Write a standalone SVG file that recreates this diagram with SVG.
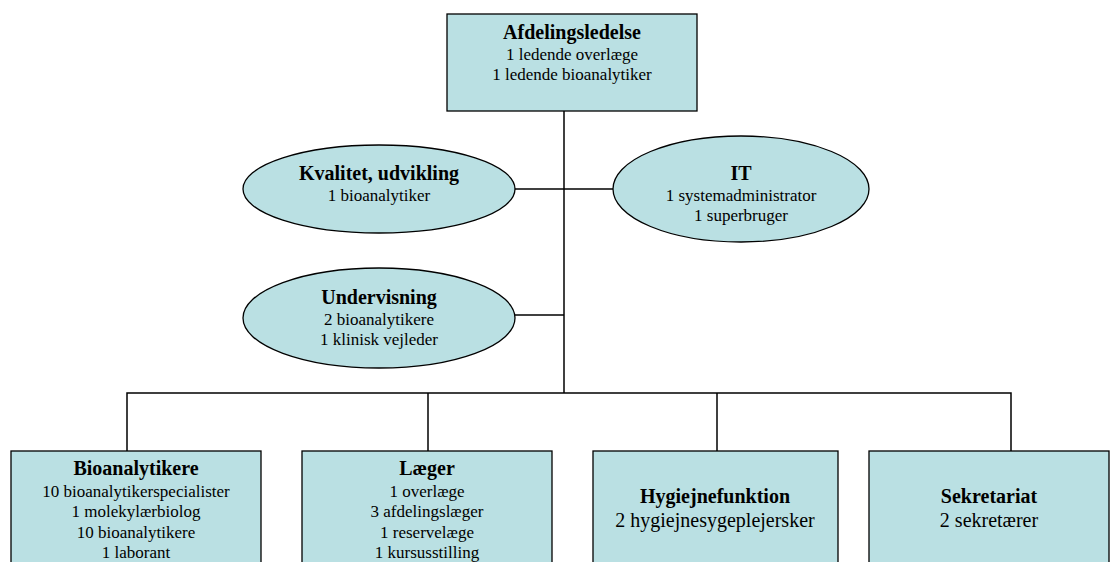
<svg xmlns="http://www.w3.org/2000/svg" width="1113" height="562" viewBox="0 0 1113 562">
<style>
.n{fill:#BAE0E3;stroke:#000;stroke-width:1.3}
.c{fill:none;stroke:#000;stroke-width:1.5}
text{font-family:"Liberation Serif","Times New Roman",serif;fill:#000;text-anchor:middle}
.t{font-weight:bold;font-size:20px}
.s{font-size:17px}
.b{font-size:20px}
</style>
<rect width="1113" height="562" fill="#fff"/>
<g id="connectors">
<path class="c" d="M564 111V393"/>
<path class="c" d="M515 189H613"/>
<path class="c" d="M515 315H564"/>
<path class="c" d="M127 451V393H1011V451"/>
<path class="c" d="M428 393V451"/>
<path class="c" d="M717 393V451"/>
</g>
<g id="afdelingsledelse">
<rect class="n" x="447" y="14" width="250" height="97"/>
<text class="t" x="572" y="39">Afdelingsledelse</text>
<text class="s" x="572" y="60">1 ledende overlæge</text>
<text class="s" x="572" y="80">1 ledende bioanalytiker</text>
</g>
<g id="kvalitet">
<ellipse class="n" cx="379" cy="189" rx="136" ry="44"/>
<text class="t" x="379" y="180">Kvalitet, udvikling</text>
<text class="s" x="379" y="201">1 bioanalytiker</text>
</g>
<g id="it">
<ellipse class="n" cx="741" cy="189" rx="128" ry="53"/>
<text class="t" x="741" y="180">IT</text>
<text class="s" x="741" y="201">1 systemadministrator</text>
<text class="s" x="741" y="221">1 superbruger</text>
</g>
<g id="undervisning">
<ellipse class="n" cx="379" cy="318" rx="136" ry="50"/>
<text class="t" x="379" y="304">Undervisning</text>
<text class="s" x="379" y="325">2 bioanalytikere</text>
<text class="s" x="379" y="345">1 klinisk vejleder</text>
</g>
<g id="bioanalytikere">
<rect class="n" x="11" y="451" width="250" height="130"/>
<text class="t" x="136" y="475">Bioanalytikere</text>
<text class="s" x="136" y="497">10 bioanalytikerspecialister</text>
<text class="s" x="136" y="517">1 molekylærbiolog</text>
<text class="s" x="136" y="538">10 bioanalytikere</text>
<text class="s" x="136" y="558">1 laborant</text>
</g>
<g id="laeger">
<rect class="n" x="302" y="451" width="250" height="130"/>
<text class="t" x="427" y="475">Læger</text>
<text class="s" x="427" y="497">1 overlæge</text>
<text class="s" x="427" y="517">3 afdelingslæger</text>
<text class="s" x="427" y="538">1 reservelæge</text>
<text class="s" x="427" y="558">1 kursusstilling</text>
</g>
<g id="hygiejnefunktion">
<rect class="n" x="593" y="451" width="245" height="130"/>
<text class="t" x="715" y="503">Hygiejnefunktion</text>
<text class="b" x="715" y="527">2 hygiejnesygeplejersker</text>
</g>
<g id="sekretariat">
<rect class="n" x="869" y="451" width="240" height="130"/>
<text class="t" x="989" y="503">Sekretariat</text>
<text class="b" x="989" y="527">2 sekretærer</text>
</g>
</svg>
